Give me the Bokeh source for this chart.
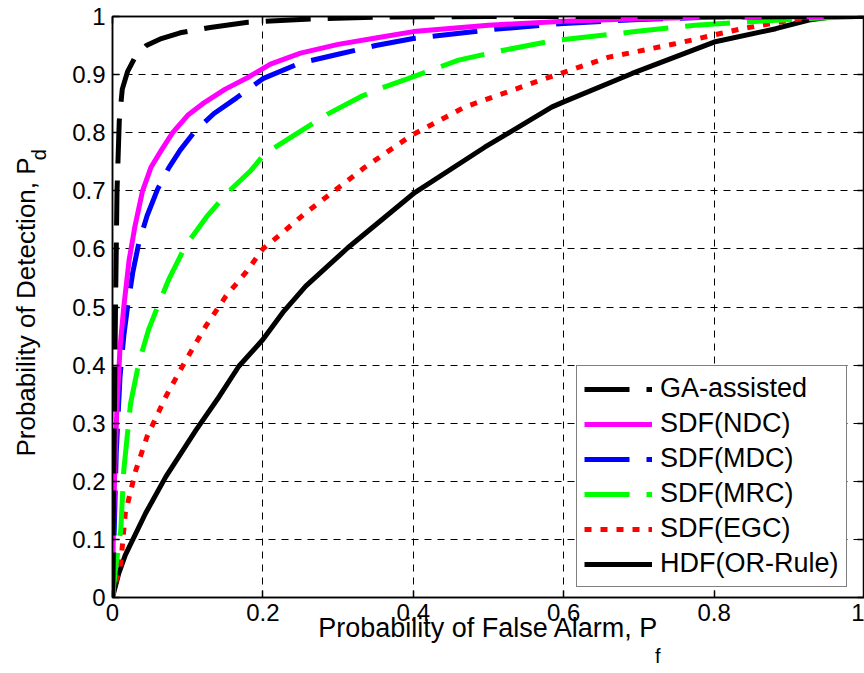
import math
from bokeh.plotting import figure
from bokeh.models import Legend, LegendItem, LinearAxis, FixedTicker, Range1d
from bokeh.embed import file_html
from bokeh.resources import INLINE

# ---------------- data ----------------
series_names = ["GA-assisted", "SDF(NDC)", "SDF(MDC)", "SDF(MRC)", "SDF(EGC)", "HDF(OR-Rule)"]

ga_x = [0, 0.002, 0.004, 0.006, 0.009, 0.013, 0.02, 0.03, 0.045, 0.065, 0.09, 0.13, 0.18, 0.25, 0.35, 0.5, 1.0]
ga_y = [0, 0.25, 0.5, 0.7, 0.82, 0.875, 0.905, 0.93, 0.95, 0.962, 0.972, 0.981, 0.99, 0.995, 0.999, 1.0, 1.0]

ndc_x = [0, 0.001, 0.003, 0.006, 0.01, 0.015, 0.022, 0.03, 0.04, 0.051, 0.065, 0.08, 0.1, 0.12, 0.15, 0.18,
         0.21, 0.25, 0.3, 0.35, 0.4, 0.5, 0.6, 0.7, 0.8, 1.0]
ndc_y = [0, 0.1, 0.22, 0.33, 0.43, 0.5, 0.58, 0.64, 0.7, 0.74, 0.77, 0.8, 0.83, 0.85, 0.875, 0.895,
         0.918, 0.937, 0.952, 0.963, 0.974, 0.985, 0.992, 0.996, 0.999, 1.0]

mdc_x = [0, 0.002, 0.005, 0.01, 0.015, 0.02, 0.027, 0.035, 0.046, 0.06, 0.075, 0.09, 0.11, 0.135, 0.165,
         0.2, 0.25, 0.3, 0.35, 0.4, 0.5, 0.6, 0.7, 0.8, 1.0]
mdc_y = [0, 0.1, 0.25, 0.38, 0.45, 0.5, 0.56, 0.61, 0.657, 0.703, 0.74, 0.77, 0.803, 0.833, 0.86,
         0.893, 0.92, 0.935, 0.95, 0.962, 0.977, 0.988, 0.995, 0.999, 1.0]

mrc_x = [0, 0.004, 0.011, 0.015, 0.024, 0.035, 0.048, 0.062, 0.075, 0.097, 0.125, 0.153, 0.184, 0.202,
         0.237, 0.286, 0.33, 0.362, 0.393, 0.46, 0.52, 0.584, 0.695, 0.775, 0.86, 0.95, 1.0]
mrc_y = [0, 0.05, 0.116, 0.219, 0.334, 0.404, 0.461, 0.507, 0.548, 0.605, 0.655, 0.697, 0.735, 0.763,
         0.792, 0.832, 0.862, 0.879, 0.893, 0.925, 0.942, 0.958, 0.974, 0.985, 0.992, 0.998, 1.0]

egc_x = [0, 0.004, 0.011, 0.017, 0.031, 0.046, 0.071, 0.093, 0.124, 0.151, 0.177, 0.2, 0.226, 0.255,
         0.335, 0.397, 0.468, 0.575, 0.66, 0.748, 0.837, 0.904, 0.95, 1.0]
egc_y = [0, 0.025, 0.059, 0.145, 0.219, 0.277, 0.346, 0.398, 0.467, 0.519, 0.559, 0.6, 0.628, 0.66,
         0.74, 0.795, 0.844, 0.893, 0.93, 0.953, 0.979, 0.994, 1.0, 1.0]

hdf_x = [0, 0.004, 0.008, 0.017, 0.044, 0.071, 0.111, 0.142, 0.168, 0.2, 0.228, 0.257, 0.313, 0.402,
         0.495, 0.584, 0.6, 0.691, 0.8, 0.882, 0.926, 0.96, 1.0]
hdf_y = [0, 0.02, 0.04, 0.073, 0.145, 0.208, 0.288, 0.346, 0.398, 0.444, 0.493, 0.536, 0.602, 0.697,
         0.775, 0.844, 0.853, 0.902, 0.956, 0.979, 0.994, 1.0, 1.0]

x_ticks = [0, 0.2, 0.4, 0.6, 0.8, 1]
x_tick_labels = ["0", "0.2", "0.4", "0.6", "0.8", "1"]
y_ticks = [0, 0.1, 0.2, 0.3, 0.4, 0.5, 0.6, 0.7, 0.8, 0.9, 1]
y_tick_labels = ["0", "0.1", "0.2", "0.3", "0.4", "0.5", "0.6", "0.7", "0.8", "0.9", "1"]

x_label_main = "Probability of False Alarm, P"
x_label_sub = "f"
y_label_main = "Probability of Detection, P"
y_label_sub = "d"
# where the subscripts sit along their axes (just after the final "P")
x_sub_pos = 0.725
y_sub_pos = 0.762

# ---------------- styling ----------------
FONT = "Liberation Sans"

p = figure(width=864, height=673, output_backend="svg", toolbar_location=None,
           x_range=Range1d(0, 1), y_range=Range1d(0, 1),
           min_border_left=112, min_border_right=0, min_border_top=16, min_border_bottom=76)
p.background_fill_color = "white"
p.border_fill_color = "white"
p.outline_line_color = "black"
p.outline_line_width = 1.5

for ax, ticks, labels in ((p.xaxis[0], x_ticks, x_tick_labels), (p.yaxis[0], y_ticks, y_tick_labels)):
    ax.ticker = FixedTicker(ticks=ticks)
    ax.major_label_overrides = dict(zip(ticks, labels))
    ax.major_label_text_font = FONT
    ax.major_label_text_font_size = "24px"
    ax.major_label_text_color = "black"
    ax.major_tick_in = 7
    ax.major_tick_out = 0
    ax.minor_tick_line_color = None
    ax.axis_line_width = 1.5
    ax.major_tick_line_width = 1.5
    ax.axis_line_color = "black"
    ax.major_tick_line_color = "black"
p.xaxis[0].major_label_standoff = 6
p.yaxis[0].major_label_standoff = 7

# x label: main text on the inner axis
xa = p.xaxis[0]
xa.axis_label = x_label_main
xa.axis_label_text_font = FONT
xa.axis_label_text_font_size = "27px"
xa.axis_label_text_font_style = "normal"
xa.axis_label_text_color = "black"
xa.axis_label_standoff = -11

# x subscript: tick label of an outer, invisible axis
xs = LinearAxis(ticker=FixedTicker(ticks=[x_sub_pos]))
xs.major_label_overrides = {x_sub_pos: x_label_sub}
xs.major_label_text_font = FONT
xs.major_label_text_font_size = "20px"
xs.major_label_text_color = "black"
xs.major_label_standoff = -1
xs.axis_line_color = None
xs.major_tick_line_color = None
xs.minor_tick_line_color = None
xs.major_tick_in = 0
xs.major_tick_out = 0
p.add_layout(xs, "below")

# y: subscript as tick label and main text as axis label of an outer axis
ys = LinearAxis(ticker=FixedTicker(ticks=[y_sub_pos]))
ys.major_label_overrides = {y_sub_pos: y_label_sub}
ys.major_label_orientation = "parallel"
ys.major_label_text_font = FONT
ys.major_label_text_font_size = "20px"
ys.major_label_text_color = "black"
ys.major_label_standoff = 19
ys.axis_line_color = None
ys.major_tick_line_color = None
ys.minor_tick_line_color = None
ys.major_tick_in = 0
ys.major_tick_out = 0
ys.axis_label = y_label_main
ys.axis_label_text_font = FONT
ys.axis_label_text_font_size = "26px"
ys.axis_label_text_font_style = "normal"
ys.axis_label_text_color = "black"
ys.axis_label_standoff = -15
p.add_layout(ys, "left")

for loc, ticks in (("right", y_ticks), ("above", x_ticks)):
    ax = LinearAxis(ticker=FixedTicker(ticks=ticks))
    ax.major_label_overrides = {t: "" for t in ticks}
    ax.major_label_text_font_size = "1px"
    ax.major_label_standoff = 0
    ax.major_tick_in = 7
    ax.major_tick_out = 0
    ax.minor_tick_line_color = None
    ax.axis_line_width = 1.5
    ax.major_tick_line_width = 1.5
    p.add_layout(ax, loc)

for g, ticks in ((p.xgrid[0], x_ticks), (p.ygrid[0], y_ticks)):
    g.ticker = FixedTicker(ticks=ticks)
    g.grid_line_color = "black"
    g.grid_line_dash = "7 6"
    g.grid_line_width = 1

LW = 5
r_hdf = p.line(hdf_x, hdf_y, line_color="black", line_width=LW)
r_egc = p.line(egc_x, egc_y, line_color="#FF0000", line_width=LW, line_dash="7 9")
r_mrc = p.line(mrc_x, mrc_y, line_color="#00FF00", line_width=LW, line_dash="45 17")
r_mdc = p.line(mdc_x, mdc_y, line_color="#0000FF", line_width=LW, line_dash="45 17")
r_ndc = p.line(ndc_x, ndc_y, line_color="#FF00FF", line_width=LW)
r_ga = p.line(ga_x, ga_y, line_color="black", line_width=LW, line_dash="45 17")

renderers = [r_ga, r_ndc, r_mdc, r_mrc, r_egc, r_hdf]
legend = Legend(items=[LegendItem(label=n, renderers=[r]) for n, r in zip(series_names, renderers)],
                location=(464, 10), orientation="vertical",
                label_text_font=FONT, label_text_font_size="27px", label_text_color="black",
                glyph_width=68, glyph_height=30, label_height=30, spacing=4, padding=7, margin=0,
                label_standoff=8, border_line_color="black", border_line_width=1.5,
                background_fill_color="white", background_fill_alpha=1.0)
p.add_layout(legend)

open("out.html", "w").write(file_html(p, INLINE))
